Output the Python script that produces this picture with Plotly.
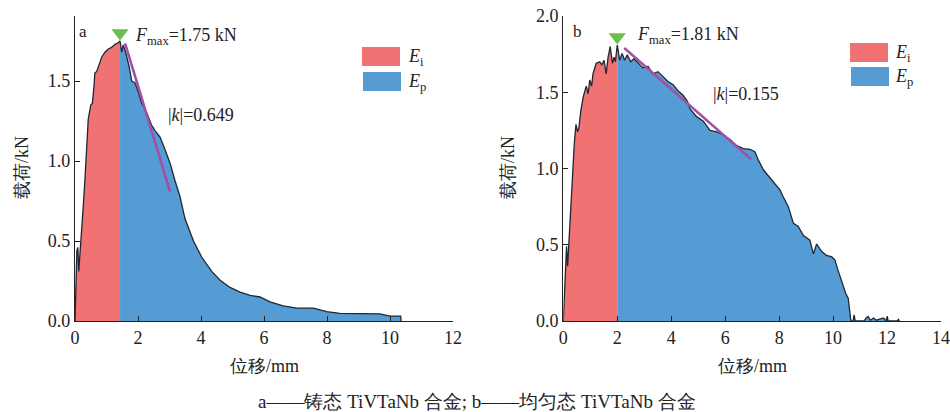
import plotly.graph_objects as go

# ---------------- data ----------------
disp_a = [0.0, 0.02, 0.06, 0.09, 0.12, 0.15, 0.21, 0.26, 0.32, 0.37, 0.42, 0.50, 0.55, 0.60,
          0.63, 0.69, 0.77, 0.85, 0.95, 1.06, 1.16, 1.27, 1.34, 1.43, 1.48, 1.53, 1.62, 1.72,
          1.80, 1.90, 2.01, 2.12, 2.28, 2.43, 2.54, 2.70, 2.86, 3.02, 3.17, 3.33, 3.49, 3.65,
          3.76, 4.02, 4.34, 4.60, 4.92, 5.24, 5.56, 5.87, 6.19, 6.61, 7.04, 7.57, 7.99, 8.41,
          8.94, 9.68, 10.0, 10.34, 10.35]
load_a = [0.0, 0.15, 0.44, 0.46, 0.31, 0.40, 0.55, 0.71, 0.90, 1.09, 1.26, 1.35, 1.36, 1.46,
          1.55, 1.56, 1.61, 1.65, 1.68, 1.70, 1.71, 1.73, 1.735, 1.75, 1.68, 1.725, 1.67, 1.59,
          1.50, 1.49, 1.43, 1.36, 1.30, 1.225, 1.19, 1.15, 1.07, 0.985, 0.88, 0.78, 0.64, 0.55,
          0.50, 0.40, 0.31, 0.256, 0.21, 0.18, 0.16, 0.15, 0.12, 0.094, 0.08, 0.08, 0.058, 0.048,
          0.048, 0.044, 0.031, 0.031, 0.0]

disp_b = [0.0, 0.06, 0.12, 0.16, 0.21, 0.28, 0.35, 0.41, 0.47, 0.53, 0.58, 0.65, 0.74, 0.85,
          0.92, 0.98, 1.05, 1.10, 1.22, 1.35, 1.43, 1.51, 1.59, 1.66, 1.74, 1.82, 1.88, 1.93,
          2.00, 2.09, 2.18, 2.27, 2.37, 2.50, 2.62, 2.77, 2.95, 3.14, 3.32, 3.51, 3.70, 3.88,
          4.07, 4.25, 4.44, 4.60, 4.70, 4.94, 5.19, 5.44, 5.69, 5.93, 6.18, 6.43, 6.67, 6.92,
          7.10, 7.23, 7.42, 7.66, 7.85, 8.03, 8.15, 8.34, 8.53, 8.71, 8.90, 9.14, 9.27, 9.39,
          9.58, 9.76, 9.95, 10.07, 10.16, 10.26, 10.36, 10.47, 10.56, 10.63, 10.66, 10.74, 10.78,
          10.82, 11.15, 11.22, 11.30, 11.38, 11.50, 11.60, 11.87, 11.95, 12.01, 12.04, 12.38,
          12.42, 12.46]
load_b = [0.0, 0.25, 0.49, 0.36, 0.53, 0.79, 1.01, 1.17, 1.29, 1.24, 1.27, 1.38, 1.47, 1.54,
          1.49, 1.58, 1.54, 1.62, 1.69, 1.70, 1.68, 1.71, 1.62, 1.73, 1.80, 1.69, 1.73, 1.70,
          1.81, 1.71, 1.755, 1.71, 1.745, 1.70, 1.72, 1.69, 1.66, 1.67, 1.62, 1.635, 1.60, 1.57,
          1.55, 1.51, 1.48, 1.44, 1.39, 1.34, 1.31, 1.25, 1.24, 1.22, 1.19, 1.15, 1.13, 1.126,
          1.11, 1.056, 0.99, 0.94, 0.90, 0.86, 0.815, 0.75, 0.64, 0.62, 0.56, 0.53, 0.44, 0.505,
          0.455, 0.43, 0.42, 0.40, 0.345, 0.29, 0.247, 0.18, 0.149, 0.007, 0.0, 0.0, 0.04,
          0.0, 0.0, 0.02, 0.03, 0.005, 0.02, 0.005, 0.02, 0.0, 0.03, 0.0, 0.0,
          0.01, 0.0]

fmax_a, xpeak_a = 1.75, 1.43
fmax_b, xpeak_b = 1.81, 2.00
k_a, kx_a, ky0_a = 0.649, [1.59, 3.02], 1.735
k_b, kx_b, ky0_b = 0.155, [2.26, 6.96], 1.79

x_ticks_a = [0, 2, 4, 6, 8, 10, 12]
x_ticks_b = [0, 2, 4, 6, 8, 10, 12, 14]
y_ticks_a = [0.0, 0.5, 1.0, 1.5]
y_ticks_b = [0.0, 0.5, 1.0, 1.5, 2.0]

caption = "a——铸态 TiVTaNb 合金; b——均匀态 TiVTaNb 合金"

# ---------------- style ----------------
FONT = "Liberation Serif"
RED = "#F07273"
BLUE = "#559BD4"
LINE = "#1E2733"
PURPLE = "#A050A5"
GREEN = "#6CC04A"
W, H = 950, 412

fig = go.Figure()


def add_panel(disp, load, xpeak, fmax, k, kx, ky0, xa, ya, px_per_unit):
    red_x = [x for x in disp if x <= xpeak]
    red_y = [y for x, y in zip(disp, load) if x <= xpeak]
    blue_x = [x for x in disp if x >= xpeak]
    blue_y = [y for x, y in zip(disp, load) if x >= xpeak]
    fig.add_trace(go.Scatter(x=red_x, y=red_y, fill="tozeroy", mode="lines",
                             line=dict(width=0, color=RED), fillcolor=RED,
                             xaxis=xa, yaxis=ya, showlegend=False, hoverinfo="skip"))
    fig.add_trace(go.Scatter(x=blue_x, y=blue_y, fill="tozeroy", mode="lines",
                             line=dict(width=0, color=BLUE), fillcolor=BLUE,
                             xaxis=xa, yaxis=ya, showlegend=False, hoverinfo="skip"))
    fig.add_trace(go.Scatter(x=disp, y=load, mode="lines",
                             line=dict(width=1.3, color=LINE),
                             xaxis=xa, yaxis=ya, showlegend=False))
    ky = [ky0 - k * (x - kx[0]) for x in kx]
    fig.add_trace(go.Scatter(x=kx, y=ky, mode="lines",
                             line=dict(width=2.6, color=PURPLE),
                             xaxis=xa, yaxis=ya, showlegend=False))
    fig.add_trace(go.Scatter(x=[xpeak], y=[fmax + 8.0 / px_per_unit], mode="markers",
                             marker=dict(symbol="triangle-down", size=15, color=GREEN,
                                         line=dict(width=0)),
                             xaxis=xa, yaxis=ya, showlegend=False))


add_panel(disp_a, load_a, xpeak_a, fmax_a, k_a, kx_a, ky0_a, "x", "y", 160.0)
add_panel(disp_b, load_b, xpeak_b, fmax_b, k_b, kx_b, ky0_b, "x2", "y2", 152.5)

ydom = [91 / H, 1 - 16 / H]
axis_common = dict(showline=True, linecolor="#222222", linewidth=1.2, ticks="inside",
                   ticklen=5, tickwidth=1.2, tickcolor="#222222", showgrid=False,
                   zeroline=False, mirror=False, automargin=False,
                   tickfont=dict(family=FONT, size=18, color="#222"))

fig.update_layout(
    width=W, height=H,
    margin=dict(l=0, r=0, t=0, b=0, autoexpand=False),
    paper_bgcolor="white", plot_bgcolor="white",
    font=dict(family=FONT, size=18, color="#222"),
    xaxis=dict(domain=[75 / W, 453 / W], range=[0, 12], tickvals=x_ticks_a,
               anchor="y", **axis_common),
    yaxis=dict(domain=ydom, range=[0, 305 / 160], tickvals=y_ticks_a, tickformat=".1f",
               anchor="x", **axis_common),
    xaxis2=dict(domain=[563.3 / W, 941 / W], range=[0, 14], tickvals=x_ticks_b,
                anchor="y2", **axis_common),
    yaxis2=dict(domain=ydom, range=[0, 2.0], tickvals=y_ticks_b, tickformat=".1f",
                anchor="x2", **axis_common),
)

ann = []
# panel letters and annotations (data coordinates)
ann.append(dict(x=0.25, y=1.81, xref="x", yref="y", text="a", showarrow=False,
                font=dict(size=17), xanchor="center", yanchor="middle"))
ann.append(dict(x=0.51, y=1.90, xref="x2", yref="y2", text="b", showarrow=False,
                font=dict(size=17), xanchor="center", yanchor="middle"))
ann.append(dict(x=1.84, y=1.78, xref="x", yref="y", showarrow=False,
                text=f"<i>F</i><sub>max</sub>={fmax_a:.2f} kN", xanchor="left", yanchor="middle"))
ann.append(dict(x=2.66, y=1.87, xref="x2", yref="y2", showarrow=False,
                text=f"<i>F</i><sub>max</sub>={fmax_b:.2f} kN", xanchor="left", yanchor="middle"))
ann.append(dict(x=2.89, y=1.29, xref="x", yref="y", showarrow=False,
                text=f"|<i>k</i>|={k_a:.3f}", xanchor="left", yanchor="middle"))
ann.append(dict(x=5.47, y=1.49, xref="x2", yref="y2", showarrow=False,
                text=f"|<i>k</i>|={k_b:.3f}", xanchor="left", yanchor="middle"))

# axis titles
for cx in (264, 752):
    ann.append(dict(x=cx / W, y=1 - 366 / H, xref="paper", yref="paper", text="位移/mm",
                    showarrow=False, xanchor="center", yanchor="middle", font=dict(size=18)))
for cx in (22, 508):
    ann.append(dict(x=cx / W, y=1 - 168 / H, xref="paper", yref="paper", text="载荷/kN",
                    showarrow=False, xanchor="center", yanchor="middle", textangle=-90,
                    font=dict(size=18)))
# caption
ann.append(dict(x=477 / W, y=1 - 401 / H, xref="paper", yref="paper", text=caption,
                showarrow=False, xanchor="center", yanchor="middle", font=dict(size=19)))

# legends (boxes as shapes + labels)
shapes = []
for (x0, y0, color) in [(362, 47, RED), (363, 72, BLUE), (850, 43, RED), (851, 67, BLUE)]:
    shapes.append(dict(type="rect", xref="paper", yref="paper",
                       x0=x0 / W, x1=(x0 + 38) / W, y0=1 - (y0 + 19) / H, y1=1 - y0 / H,
                       fillcolor=color, line=dict(width=0)))
for (x0, yc, sub) in [(406, 57, "i"), (406, 82, "p"), (893, 53, "i"), (893, 77, "p")]:
    ann.append(dict(x=x0 / W, y=1 - yc / H, xref="paper", yref="paper",
                    text=f"<i>E</i><sub>{sub}</sub>", showarrow=False,
                    xanchor="left", yanchor="middle", font=dict(size=18)))

fig.update_layout(annotations=ann, shapes=shapes)
fig.write_html("out.html", config={"displayModeBar": False},
               post_script="document.body.style.margin='0';")
